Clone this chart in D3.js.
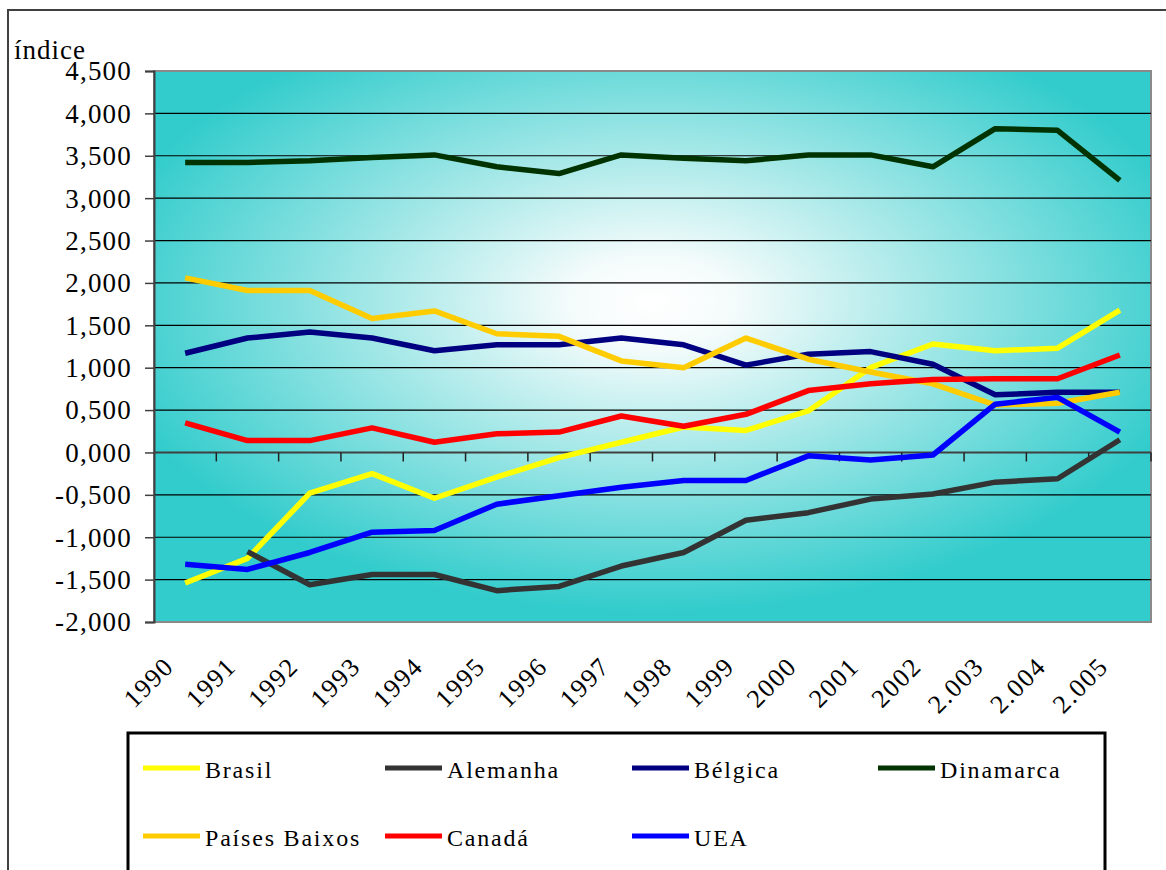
<!DOCTYPE html>
<html><head><meta charset="utf-8">
<script src="https://cdn.jsdelivr.net/npm/d3@7"></script>
<style>
html,body{margin:0;padding:0;background:#fff;overflow:hidden;}
svg{display:block;}
</style></head>
<body>
<svg id="chart" width="1166" height="870"></svg>
<script>
const categories = ["1990","1991","1992","1993","1994","1995","1996","1997","1998","1999","2000","2001","2002","2.003","2.004","2.005"];
const brasil    = [-1.54,-1.25,-0.48,-0.25,-0.54,-0.29,-0.06,0.12,0.30,0.26,0.49,1.00,1.28,1.20,1.23,1.68];
const alemanha  = [null,-1.17,-1.56,-1.44,-1.44,-1.63,-1.58,-1.34,-1.18,-0.80,-0.71,-0.55,-0.49,-0.35,-0.31,0.15];
const belgica   = [1.17,1.35,1.42,1.35,1.20,1.27,1.27,1.35,1.27,1.03,1.16,1.19,1.04,0.68,0.71,0.71];
const dinamarca = [3.42,3.42,3.44,3.48,3.51,3.37,3.29,3.51,3.47,3.44,3.51,3.51,3.37,3.82,3.80,3.21];
const paisesBaixos = [2.06,1.91,1.91,1.58,1.67,1.40,1.37,1.08,1.00,1.35,1.10,0.95,0.81,0.56,0.58,0.71];
const canada    = [0.35,0.14,0.14,0.29,0.12,0.22,0.24,0.43,0.31,0.45,0.73,0.81,0.86,0.87,0.87,1.15];
const uea       = [-1.32,-1.38,-1.18,-0.94,-0.92,-0.61,-0.51,-0.41,-0.33,-0.33,-0.04,-0.09,-0.03,0.57,0.65,0.24];
const yTicks = [-2,-1.5,-1,-0.5,0,0.5,1,1.5,2,2.5,3,3.5,4,4.5];
const yTickLabels = ["-2,000","-1,500","-1,000","-0,500","0,000","0,500","1,000","1,500","2,000","2,500","3,000","3,500","4,000","4,500"];
const seriesNames = ["Brasil","Alemanha","Bélgica","Dinamarca","Países Baixos","Canadá","UEA"];
const seriesColors = ["#FFFF00","#333333","#000080","#003300","#FFCC00","#FF0000","#0000FF"];
const seriesValues = [brasil, alemanha, belgica, dinamarca, paisesBaixos, canada, uea];
const axisTitle = "índice";

const FONT = "Liberation Serif";
const svg = d3.select("#chart");
const L = 154, R = 1151, T = 71, B = 622;

svg.append("rect").attr("x",8).attr("y",10).attr("width",1300).attr("height",1000)
  .attr("fill","#fff").attr("stroke","#404040").attr("stroke-width",2);

const x = d3.scaleBand().domain(categories).range([L, R]).padding(0);
const y = d3.scaleLinear().domain([-2, 4.5]).range([B, T]);
const cx = c => x(c) + x.bandwidth()/2;

const defs = svg.append("defs");
const grad = defs.append("radialGradient").attr("id","bg")
  .attr("cx","0.5").attr("cy","0.42").attr("r","0.56").attr("fx","0.5").attr("fy","0.42");
grad.append("stop").attr("offset","0").attr("stop-color","#FFFFFF");
grad.append("stop").attr("offset","0.15").attr("stop-color","#F4FBFB");
grad.append("stop").attr("offset","1").attr("stop-color","#33CCCC");
svg.append("rect").attr("x",L).attr("y",T).attr("width",R-L).attr("height",B-T)
  .attr("fill","url(#bg)").attr("stroke","#8a8a8a").attr("stroke-width",2);

svg.append("g").selectAll("line").data(yTicks.filter(v => v !== 0 && v !== -2 && v !== 4.5))
  .join("line")
  .attr("x1",L).attr("x2",R).attr("y1",d=>y(d)).attr("y2",d=>y(d))
  .attr("stroke","#000").attr("stroke-width",1.2);

const yAxis = d3.axisLeft(y).tickValues(yTicks).tickSize(9)
  .tickFormat((d,i) => yTickLabels[i]);
const gy = svg.append("g").attr("transform",`translate(${L},0)`).call(yAxis);
gy.attr("font-family", null).attr("font-size", null);
gy.select(".domain").attr("stroke","#404040").attr("stroke-width",2);
gy.selectAll(".tick line").attr("stroke","#404040").attr("stroke-width",1.5);
gy.selectAll(".tick text").attr("x",-22).attr("dy","0.33em")
  .style("font-family", `"${FONT}", serif`).style("font-size","27px")
  .attr("letter-spacing","1.2px").attr("fill","#000");

const gx = svg.append("g");
gx.append("line").attr("x1",L).attr("x2",R).attr("y1",y(0)).attr("y2",y(0))
  .attr("stroke","#404040").attr("stroke-width",2);
gx.selectAll("line.tk").data(categories.slice(1).concat(["__end"]))
  .join("line").attr("class","tk")
  .attr("x1",(d,i)=> L + (i+1)*x.bandwidth()).attr("x2",(d,i)=> L + (i+1)*x.bandwidth())
  .attr("y1",y(0)).attr("y2",y(0)+9).attr("stroke","#202020").attr("stroke-width",1.5);

svg.append("g").selectAll("text").data(categories).join("text")
  .attr("transform", d => `translate(${cx(d)-10},${668}) rotate(-45)`)
  .attr("text-anchor","end").attr("letter-spacing","1.5px")
  .style("font-family", `"${FONT}", serif`).style("font-size","26px")
  .text(d=>d);

svg.append("text").attr("x",14).attr("y",59).attr("letter-spacing","1px")
  .style("font-family", `"${FONT}", serif`).style("font-size","27px").text(axisTitle);

const line = d3.line().defined(d => d.v !== null).x(d => cx(d.c)).y(d => y(d.v));
seriesValues.forEach((vals, si) => {
  const data = categories.map((c,i) => ({c, v: vals[i]}));
  svg.append("path").datum(data).attr("d", line)
    .attr("fill","none").attr("stroke", seriesColors[si]).attr("stroke-width",5.5)
    .attr("stroke-linejoin","round");
});

svg.append("rect").attr("x",128).attr("y",733).attr("width",977).attr("height",200)
  .attr("fill","#fff").attr("stroke","#000").attr("stroke-width",3);
const colX = [143, 385, 632, 878];
const rowY = [768, 836];
const lg = svg.append("g").selectAll("g").data(seriesNames).join("g")
  .attr("transform",(d,i)=>`translate(${colX[i%4]},${rowY[Math.floor(i/4)]})`);
lg.append("line").attr("x1",0).attr("x2",57).attr("y1",0).attr("y2",0)
  .attr("stroke",(d,i)=>seriesColors[i]).attr("stroke-width",5);
lg.append("text").attr("x",62).attr("y",10).attr("letter-spacing","1.8px")
  .style("font-family", `"${FONT}", serif`).style("font-size","24px").text(d=>d);
</script>
</body></html>
